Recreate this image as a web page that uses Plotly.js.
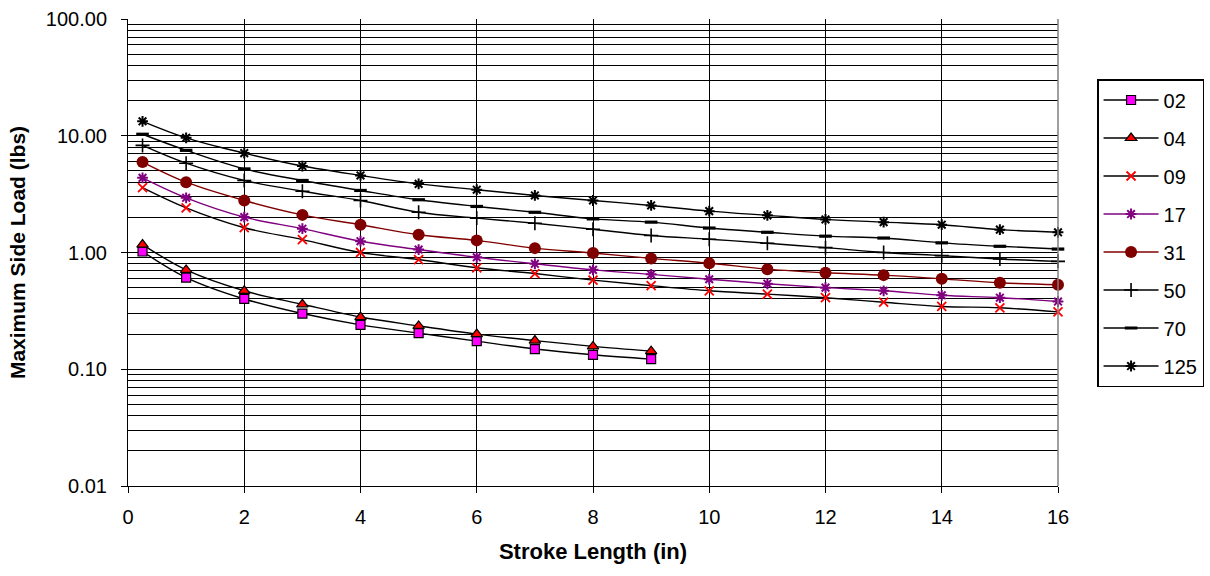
<!DOCTYPE html>
<html>
<head>
<meta charset="utf-8">
<script src="https://cdn.plot.ly/plotly-3.0.1.min.js"></script>
<style>
html,body{margin:0;padding:0;background:#fff;}
#chart{width:1210px;height:576px;}
</style>
</head>
<body>
<div id="chart"></div>
<script>
// Stroke lengths (in)
const strokeLong = [0.25, 1, 2, 3, 4, 5, 6, 7, 8, 9, 10, 11, 12, 13, 14, 15, 16];
const strokeShort = [0.25, 1, 2, 3, 4, 5, 6, 7, 8, 9];

// Maximum side load (lbs) per model
const load02 = [1.02, 0.61, 0.40, 0.30, 0.24, 0.204, 0.174, 0.149, 0.133, 0.122];
const load04 = [1.17, 0.71, 0.47, 0.36, 0.28, 0.235, 0.20, 0.176, 0.157, 0.143];
const load09 = [3.59, 2.41, 1.63, 1.29, 1.00, 0.87, 0.74, 0.66, 0.58, 0.52, 0.47, 0.44, 0.41, 0.375, 0.345, 0.336, 0.31];
const load17 = [4.36, 2.94, 2.01, 1.60, 1.25, 1.06, 0.91, 0.80, 0.71, 0.65, 0.59, 0.54, 0.50, 0.47, 0.43, 0.41, 0.38];
const load31 = [5.95, 4.00, 2.79, 2.10, 1.73, 1.42, 1.27, 1.09, 0.99, 0.89, 0.81, 0.72, 0.67, 0.64, 0.595, 0.55, 0.53];
const load50 = [8.27, 5.82, 4.14, 3.35, 2.79, 2.21, 1.97, 1.78, 1.58, 1.40, 1.30, 1.20, 1.10, 1.00, 0.94, 0.88, 0.84];
const load70 = [10.3, 7.5, 5.2, 4.14, 3.40, 2.83, 2.48, 2.21, 1.94, 1.82, 1.62, 1.49, 1.38, 1.33, 1.21, 1.13, 1.07];
const load125 = [13.3, 9.6, 7.1, 5.5, 4.57, 3.87, 3.45, 3.08, 2.79, 2.53, 2.26, 2.08, 1.92, 1.82, 1.73, 1.57, 1.49];

const seriesNames = ['02', '04', '09', '17', '31', '50', '70', '125'];
const yTickVals = [0.01, 0.1, 1, 10, 100];
const yTickText = ['0.01', '0.10', '1.00', '10.00', '100.00'];
const xTickVals = [0, 2, 4, 6, 8, 10, 12, 14, 16];

const FONT = '"Liberation Sans", Arial, sans-serif';

const minorVals = [];
yTickVals.slice(0, -1).forEach(d => { for (let k = 2; k <= 9; k++) minorVals.push(+(d * k).toPrecision(3)); });

function tr(name, xs, ys, lineColor, marker) {
  return {
    type: 'scatter', mode: 'lines+markers', name: name, legendgroup: name,
    x: xs, y: ys,
    line: {color: lineColor, width: 1.4, shape: 'spline', smoothing: 1},
    marker: marker,
    cliponaxis: false
  };
}

const data = [
  tr(seriesNames[0], strokeShort, load02, '#000000', {symbol: 'square', size: 9, color: '#FF00FF', line: {color: '#000', width: 1.2}}),
  tr(seriesNames[1], strokeShort, load04, '#000000', {symbol: 'triangle-up', size: 10, color: '#FF0000', line: {color: '#000', width: 1.2}}),
  tr(seriesNames[2], strokeLong, load09, '#000000', {symbol: 'x-thin', size: 9, color: '#FF0000', line: {color: '#FF0000', width: 1.8}}),
  tr(seriesNames[3], strokeLong, load17, '#800080', {symbol: 'asterisk', size: 9, color: '#800080', line: {color: '#800080', width: 2}}),
  tr(seriesNames[4], strokeLong, load31, '#800000', {symbol: 'circle', size: 12, color: '#800000', line: {color: '#800000', width: 0}}),
  tr(seriesNames[5], strokeLong, load50, '#000000', {symbol: 'cross-thin', size: 10, color: '#000', line: {color: '#000', width: 1.6}}),
  tr(seriesNames[6], strokeLong, load70, '#000000', {symbol: 'line-ew', size: 9, color: '#000', line: {color: '#000', width: 3.2}}),
  tr(seriesNames[7], strokeLong, load125, '#000000', {symbol: 'asterisk', size: 9, color: '#000', line: {color: '#000', width: 2}})
];

const layout = {
  width: 1210, height: 576,
  margin: {l: 128, r: 152, t: 19, b: 90, pad: 0, autoexpand: false},
  paper_bgcolor: '#fff', plot_bgcolor: '#fff',
  font: {family: FONT, color: '#000', size: 20},
  showlegend: true,
  legend: {
    x: 1.042, y: 0.8715, xanchor: 'left', yanchor: 'top',
    bordercolor: '#000', borderwidth: 1.5, bgcolor: '#fff',
    font: {family: FONT, size: 20, color: '#000'},
    tracegroupgap: 9, traceorder: 'grouped', itemwidth: 55
  },
  xaxis: {
    range: [0, 16], tickmode: 'array', tickvals: xTickVals,
    ticks: 'outside', ticklen: 6, tickcolor: '#000', tickwidth: 1,
    showgrid: true, gridcolor: '#000', gridwidth: 1,
    showline: true, linecolor: '#000', linewidth: 1,
    zeroline: false, ticklabelstandoff: 7,
    tickfont: {family: FONT, size: 20, color: '#000'},
    title: {text: '<b>Stroke Length (in)</b>', font: {family: FONT, size: 22, color: '#000'}, standoff: 16}
  },
  yaxis: {
    type: 'log', range: [-2, 2], tickmode: 'array', tickvals: yTickVals, ticktext: yTickText,
    ticks: 'outside', ticklen: 6, tickcolor: '#000', tickwidth: 1,
    showgrid: true, gridcolor: '#000', gridwidth: 1,
    showline: true, linecolor: '#000', linewidth: 1,
    zeroline: false, ticklabelstandoff: 10,
    minor: {tickmode: 'array', tickvals: minorVals, showgrid: true, gridcolor: '#000', gridwidth: 1, ticks: ''},
    tickfont: {family: FONT, size: 20, color: '#000'},
    title: {text: '<b>Maximum Side Load (lbs)</b>', font: {family: FONT, size: 21, color: '#000'}, standoff: 14}
  },
  shapes: [
    {type: 'line', xref: 'paper', yref: 'paper', x0: 1, x1: 1, y0: 0, y1: 1, line: {color: '#808080', width: 1.5}, layer: 'above'}
  ]
};

Plotly.newPlot('chart', data, layout, {displayModeBar: false, staticPlot: true});
</script>
</body>
</html>
